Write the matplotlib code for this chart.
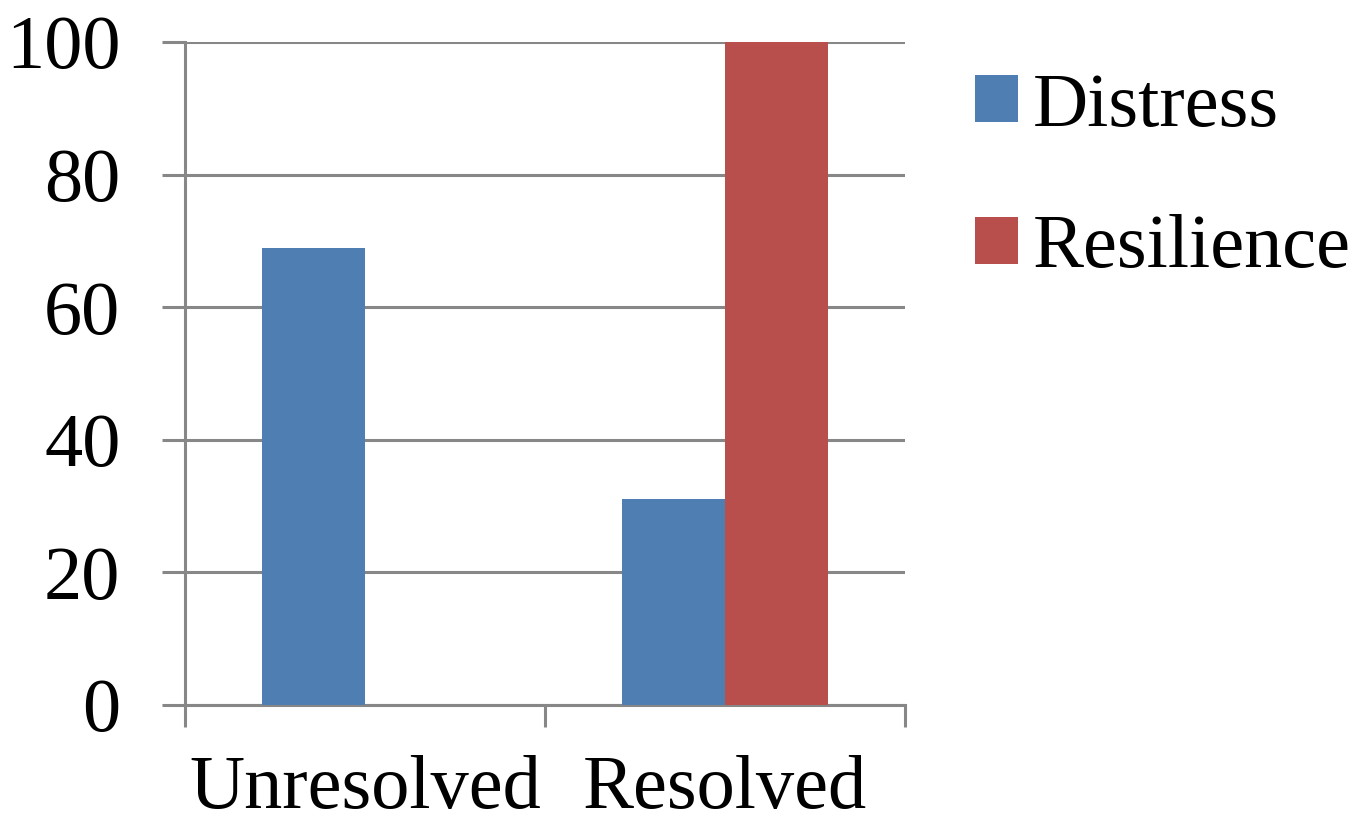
import matplotlib.pyplot as plt
import numpy as np

# data
categories = ["Unresolved", "Resolved"]
distress = [69, 31]
resilience = [0, 100]
series_names = ["Distress", "Resilience"]
yticks = [0, 20, 40, 60, 80, 100]

plt.rcParams["font.family"] = ["Liberation Serif", "DejaVu Serif"]

fig = plt.figure(figsize=(13.68, 8.23), dpi=100)
ax = fig.add_axes([185 / 1368, 1 - 705 / 823, (905 - 185) / 1368, (705 - 42) / 823])

x = np.arange(len(categories))
w = 0.285
ax.bar(x - w / 2, distress, w, color="#4F7EB3", label=series_names[0], zorder=3)
ax.bar(x + w / 2, resilience, w, color="#B84F4D", label=series_names[1], zorder=3)

gray = "#878787"
ax.set_xlim(-0.5, len(categories) - 0.5)
ax.set_ylim(0, 100)
ax.set_yticks(yticks)
ax.yaxis.grid(True, color=gray, linewidth=2.2, zorder=0)
ax.set_axisbelow(True)

for side in ["top", "right"]:
    ax.spines[side].set_visible(False)
for side in ["left", "bottom"]:
    ax.spines[side].set_color(gray)
    ax.spines[side].set_linewidth(2.2)

ax.tick_params(axis="y", length=16.5, width=2.2, color=gray, pad=30, labelsize=55)
ax.set_xticks(x)
ax.set_xticklabels(categories)
ax.tick_params(axis="x", which="major", length=0, pad=36, labelsize=55)
ax.set_xticks(np.arange(-0.5, len(categories)), minor=True)
ax.tick_params(axis="x", which="minor", length=16, width=2.2, color=gray)

fig.legend(loc="center left", bbox_to_anchor=(975 / 1368, 1 - 178 / 823),
           frameon=False, fontsize=55, handlelength=0.56, handleheight=0.56,
           handletextpad=0.2, labelspacing=0.95, borderpad=0, borderaxespad=0)

fig.savefig("out.png", dpi=100)
